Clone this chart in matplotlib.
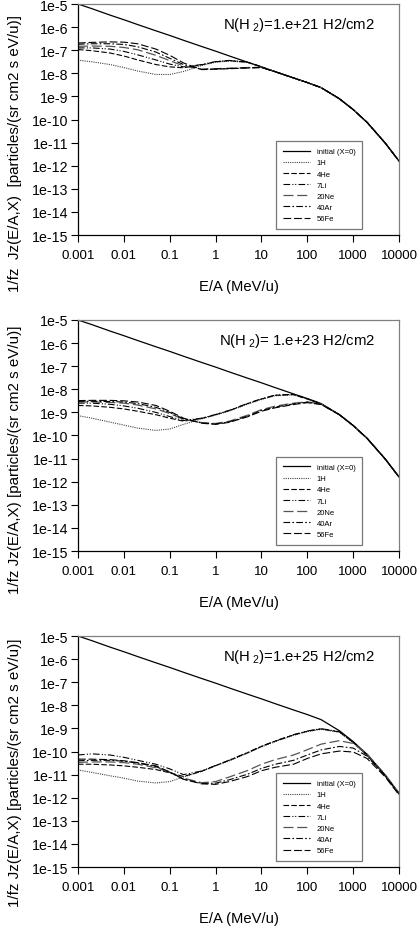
import matplotlib
matplotlib.use('Agg')
import matplotlib.pyplot as plt
from matplotlib.ticker import FixedLocator, FixedFormatter, NullLocator
import numpy as np

plt.rcParams['font.family'] = ['Liberation Sans', 'DejaVu Sans']
plt.rcParams['mathtext.fontset'] = 'custom'
plt.rcParams['mathtext.rm'] = 'Liberation Sans'
plt.rcParams['mathtext.it'] = 'Liberation Sans'

# ── Data (log10 of flux) ───────────────────────────────────────────────────────
energy = [0.001, 0.002, 0.005, 0.01, 0.02, 0.05, 0.1, 0.2, 0.5, 1, 2, 5, 10,
          20, 50, 100, 200, 500, 1000, 2000, 5000, 10000]

initial = [-5.00, -5.20, -5.48, -5.68, -5.89, -6.16, -6.36, -6.57, -6.84, -7.04,
           -7.25, -7.52, -7.72, -7.93, -8.20, -8.40, -8.62, -9.10, -9.57, -10.12,
           -11.02, -11.80]

# N(H2) = 1e21
p1_1H   = [-7.43, -7.50, -7.62, -7.75, -7.90, -8.05, -8.05, -7.92, -7.66, -7.52,
           -7.47, -7.53, -7.73, -7.93, -8.20, -8.40, -8.62, -9.10, -9.57, -10.12,
           -11.02, -11.80]
p1_4He  = [-6.97, -7.02, -7.12, -7.25, -7.42, -7.62, -7.72, -7.76, -7.63, -7.50,
           -7.45, -7.52, -7.72, -7.93, -8.20, -8.40, -8.62, -9.10, -9.57, -10.12,
           -11.02, -11.80]
p1_7Li  = [-6.90, -6.90, -6.95, -7.05, -7.20, -7.42, -7.60, -7.72, -7.62, -7.49,
           -7.44, -7.51, -7.72, -7.93, -8.20, -8.40, -8.62, -9.10, -9.57, -10.12,
           -11.02, -11.80]
p1_20Ne = [-6.83, -6.82, -6.83, -6.88, -6.98, -7.22, -7.45, -7.68, -7.82, -7.80,
           -7.78, -7.75, -7.74, -7.93, -8.20, -8.40, -8.62, -9.10, -9.57, -10.12,
           -11.02, -11.80]
p1_40Ar = [-6.74, -6.72, -6.72, -6.75, -6.85, -7.08, -7.35, -7.62, -7.83, -7.81,
           -7.79, -7.76, -7.75, -7.93, -8.20, -8.40, -8.62, -9.10, -9.57, -10.12,
           -11.02, -11.80]
p1_56Fe = [-6.69, -6.66, -6.64, -6.65, -6.72, -6.95, -7.22, -7.55, -7.84, -7.82,
           -7.80, -7.77, -7.75, -7.93, -8.20, -8.40, -8.62, -9.10, -9.57, -10.12,
           -11.02, -11.80]

# N(H2) = 1e23
p2_1H   = [-9.14, -9.25, -9.42, -9.55, -9.68, -9.78, -9.72, -9.52, -9.28, -9.12,
           -8.94, -8.64, -8.44, -8.28, -8.24, -8.42, -8.63, -9.10, -9.57, -10.12,
           -11.02, -11.80]
p2_4He  = [-8.70, -8.72, -8.78, -8.85, -8.95, -9.10, -9.25, -9.38, -9.26, -9.10,
           -8.92, -8.62, -8.42, -8.26, -8.23, -8.42, -8.63, -9.10, -9.57, -10.12,
           -11.02, -11.80]
p2_7Li  = [-8.60, -8.60, -8.65, -8.72, -8.82, -9.00, -9.18, -9.35, -9.25, -9.09,
           -8.91, -8.61, -8.41, -8.25, -8.22, -8.42, -8.63, -9.10, -9.57, -10.12,
           -11.02, -11.80]
p2_20Ne = [-8.55, -8.55, -8.57, -8.60, -8.68, -8.85, -9.05, -9.30, -9.44, -9.48,
           -9.38, -9.12, -8.88, -8.73, -8.60, -8.54, -8.64, -9.10, -9.57, -10.12,
           -11.02, -11.80]
p2_40Ar = [-8.52, -8.52, -8.53, -8.55, -8.62, -8.78, -9.00, -9.28, -9.46, -9.50,
           -9.41, -9.16, -8.92, -8.77, -8.63, -8.56, -8.65, -9.10, -9.57, -10.12,
           -11.02, -11.80]
p2_56Fe = [-8.49, -8.48, -8.48, -8.50, -8.55, -8.70, -8.95, -9.25, -9.47, -9.52,
           -9.43, -9.19, -8.95, -8.80, -8.66, -8.58, -8.66, -9.10, -9.57, -10.12,
           -11.02, -11.80]

# N(H2) = 1e25
p3_1H   = [-10.80, -10.90, -11.05, -11.15, -11.28, -11.36, -11.30, -11.10, -10.86,
           -10.62, -10.40, -10.07, -9.80, -9.57, -9.30, -9.14, -9.04, -9.17, -9.62,
           -10.17, -11.06, -11.84]
p3_4He  = [-10.55, -10.55, -10.58, -10.62, -10.68, -10.78, -10.92, -11.08, -10.85,
           -10.61, -10.38, -10.05, -9.78, -9.55, -9.28, -9.12, -9.02, -9.15, -9.60,
           -10.15, -11.05, -11.84]
p3_7Li  = [-10.15, -10.10, -10.15, -10.25, -10.38, -10.55, -10.75, -11.00, -10.84,
           -10.60, -10.37, -10.04, -9.77, -9.54, -9.27, -9.11, -9.01, -9.14, -9.60,
           -10.15, -11.05, -11.84]
p3_20Ne = [-10.47, -10.45, -10.45, -10.48, -10.55, -10.70, -10.90, -11.15, -11.35,
           -11.30, -11.10, -10.82, -10.55, -10.35, -10.15, -9.92, -9.68, -9.53, -9.65,
           -10.10, -11.00, -11.82]
p3_40Ar = [-10.40, -10.38, -10.38, -10.42, -10.50, -10.65, -10.90, -11.20, -11.38,
           -11.37, -11.22, -10.98, -10.73, -10.55, -10.38, -10.15, -9.93, -9.78, -9.85,
           -10.20, -11.05, -11.85]
p3_56Fe = [-10.33, -10.33, -10.35, -10.40, -10.48, -10.62, -10.88, -11.20, -11.40,
           -11.42, -11.30, -11.08, -10.83, -10.68, -10.55, -10.30, -10.10, -9.98, -10.02,
           -10.30, -11.10, -11.88]

labels = ['initial (X=0)', '1H', '4He', '7Li', '20Ne', '40Ar', '56Fe']
panels = [
    ('1.e+21', [initial, p1_1H, p1_4He, p1_7Li, p1_20Ne, p1_40Ar, p1_56Fe],
     '1/fz  Jz(E/A,X)  [particles/(sr cm2 s eV/u)]', 0.356),
    (' 1.e+23', [initial, p2_1H, p2_4He, p2_7Li, p2_20Ne, p2_40Ar, p2_56Fe],
     '1/fz Jz(E/A,X) [particles/(sr cm2 s eV/u)]', 0.398),
    ('1.e+25', [initial, p3_1H, p3_4He, p3_7Li, p3_20Ne, p3_40Ar, p3_56Fe],
     '1/fz Jz(E/A,X) [particles/(sr cm2 s eV/u)]', 0.411),
]

styles = [
    dict(ls='-', color='black', lw=0.9),
    dict(ls=(0, (1, 1)), color='#444444', lw=0.8),
    dict(ls=(0, (5, 2)), color='black', lw=0.8),
    dict(ls=(0, (6, 2, 1, 1.5, 1, 2)), color='black', lw=0.8),
    dict(ls=(0, (8, 3)), color='#555555', lw=0.9),
    dict(ls=(0, (6, 2, 1.5, 2)), color='black', lw=0.8),
    dict(ls=(0, (7, 2.5)), color='black', lw=0.8),
]

xticks = [0.001, 0.01, 0.1, 1, 10, 100, 1000, 10000]
xticklabels = ['0.001', '0.01', '0.1', '1', '10', '100', '1000', '10000']
yticks = [10.0 ** k for k in range(-15, -4)]
yticklabels = [f'1e{k}' for k in range(-15, -4)]

fig = plt.figure(figsize=(4.17, 9.29), dpi=100)
tops = [0.9946, 0.6545, 0.3143]
height = 0.2487

for (col, curves, ylab, ylab_y), top in zip(panels, tops):
    ax = fig.add_axes([0.187, top - height, 0.770, height])
    E = np.array(energy)
    for lab, vals, st in zip(labels, curves, styles):
        ax.plot(E, 10.0 ** np.array(vals), label=lab, **st)

    ax.set_xscale('log')
    ax.set_yscale('log')
    ax.set_xlim(0.001, 10000)
    ax.set_ylim(1e-15, 1e-5)
    ax.xaxis.set_major_locator(FixedLocator(xticks))
    ax.xaxis.set_major_formatter(FixedFormatter(xticklabels))
    ax.yaxis.set_major_locator(FixedLocator(yticks))
    ax.yaxis.set_major_formatter(FixedFormatter(yticklabels))
    ax.xaxis.set_minor_locator(NullLocator())
    ax.yaxis.set_minor_locator(NullLocator())
    ax.tick_params(direction='out', length=5, width=0.8, labelsize=10.2, pad=2)
    ax.tick_params(axis='x', pad=5, labelsize=9.6)

    for s in ['top', 'right']:
        ax.spines[s].set_color('#808080')
    for s in ax.spines.values():
        s.set_linewidth(0.9)

    ax.set_xlabel('E/A (MeV/u)', fontsize=10.6, labelpad=13)
    ax.set_ylabel(ylab, fontsize=10.9)
    ax.yaxis.set_label_coords(-0.175, ylab_y)

    ax.text(0.925, 0.915, r'N(H$_{\ 2}$)=' + col + ' H2/cm2',
            transform=ax.transAxes, ha='right', va='center', fontsize=10.7)

    leg = ax.legend(loc='lower right', bbox_to_anchor=(0.885, 0.026),
                    fontsize=5.5, frameon=True, fancybox=False,
                    handlelength=3.5, handletextpad=0.9, labelspacing=0.5,
                    borderpad=0.9, borderaxespad=0)
    leg.get_frame().set_edgecolor('#555555')
    leg.get_frame().set_linewidth(0.9)

fig.savefig('out.png', dpi=100)
